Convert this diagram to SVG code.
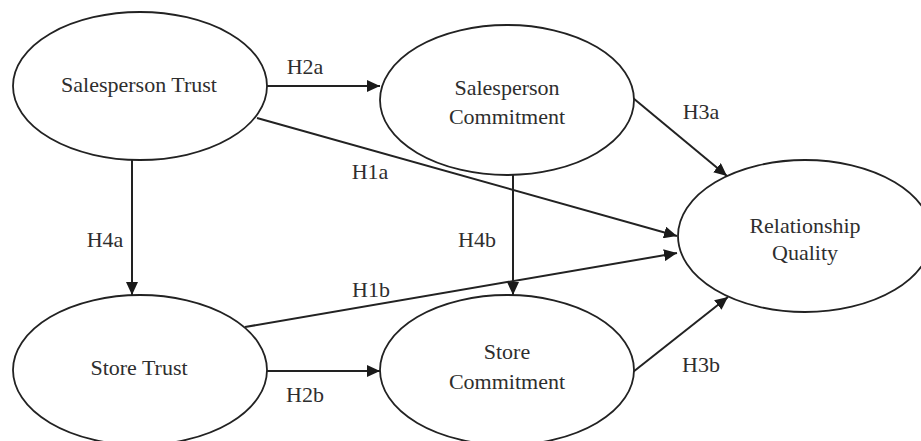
<svg xmlns="http://www.w3.org/2000/svg" width="921" height="441" viewBox="0 0 921 441">
  <style>
    .node ellipse { fill: #ffffff; stroke: #222222; stroke-width: 1.8; }
    text { font-family: 'Liberation Serif', 'DejaVu Serif', serif; font-size: 22px; fill: #2e2e2e; text-anchor: middle; }
    .edge { stroke: #222222; stroke-width: 2; fill: none; marker-end: url(#arrow); }
  </style>
  <defs>
    <marker id="arrow" markerUnits="userSpaceOnUse" markerWidth="14" markerHeight="12" refX="13" refY="6" orient="auto">
      <path d="M0,0 L13,6 L0,12 Z" fill="#1a1a1a"/>
    </marker>
  </defs>
  <rect width="921" height="441" fill="#ffffff"/>

  <!-- connectors and their hypothesis labels -->
  <g id="connectors">
    <line class="edge" x1="267" y1="86" x2="380" y2="86"/>
    <line class="edge" x1="257" y1="118" x2="677" y2="236"/>
    <line class="edge" x1="132" y1="160" x2="132" y2="295"/>
    <line class="edge" x1="513" y1="175" x2="513" y2="295"/>
    <line class="edge" x1="245" y1="327" x2="677" y2="253"/>
    <line class="edge" x1="267" y1="371" x2="380" y2="371"/>
    <line class="edge" x1="633" y1="98" x2="727" y2="176"/>
    <line class="edge" x1="633" y1="372" x2="728" y2="297"/>
    <text x="305" y="74">H2a</text>
    <text x="370" y="179">H1a</text>
    <text x="105" y="247">H4a</text>
    <text x="477" y="247">H4b</text>
    <text x="371" y="297">H1b</text>
    <text x="305" y="402">H2b</text>
    <text x="701" y="119">H3a</text>
    <text x="701" y="372">H3b</text>
  </g>

  <g id="salesperson-trust" class="node">
    <ellipse cx="140" cy="86" rx="127" ry="74"/>
    <text x="139" y="92">Salesperson Trust</text>
  </g>
  <g id="salesperson-commitment" class="node">
    <ellipse cx="507" cy="100" rx="127" ry="75"/>
    <text x="507" y="95">Salesperson</text>
    <text x="507" y="124">Commitment</text>
  </g>
  <g id="relationship-quality" class="node">
    <ellipse cx="805" cy="236" rx="127" ry="76"/>
    <text x="805" y="233">Relationship</text>
    <text x="805" y="260">Quality</text>
  </g>
  <g id="store-trust" class="node">
    <ellipse cx="140" cy="370" rx="127" ry="75"/>
    <text x="139" y="375">Store Trust</text>
  </g>
  <g id="store-commitment" class="node">
    <ellipse cx="507" cy="370" rx="127" ry="75"/>
    <text x="507" y="359">Store</text>
    <text x="507" y="389">Commitment</text>
  </g>
</svg>
